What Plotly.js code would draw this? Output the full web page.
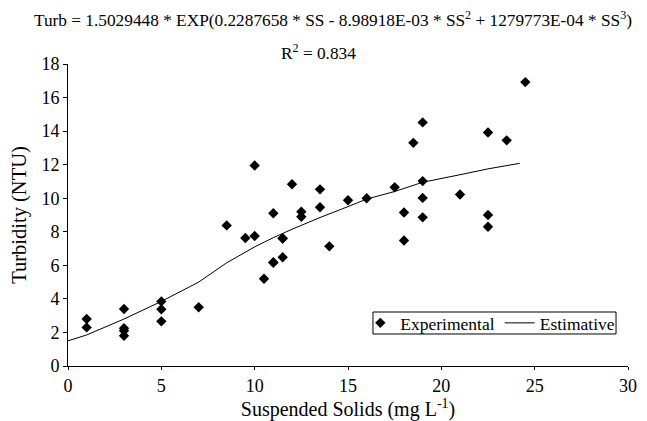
<!DOCTYPE html>
<html>
<head>
<meta charset="utf-8">
<script src="https://cdn.plot.ly/plotly-3.0.1.min.js"></script>
<style>html,body{margin:0;padding:0;background:#fff;}#chart{width:647px;height:421px;}</style>
</head>
<body>
<div id="chart"></div>
<script>
// Experimental data (Suspended Solids vs Turbidity)
var expSS = [1, 1, 3, 3, 3, 3, 5, 5, 5, 7, 8.5, 9.5, 10, 10, 10.5, 11, 11, 11, 11.5, 11.5, 11.5, 12, 12.5, 12.5, 13.5, 13.5, 14, 15, 16, 17.5, 18, 18, 18.5, 19, 19, 19, 19, 21, 22.5, 22.5, 22.5, 23.5, 24.5];
var expTurb = [2.8, 2.3, 3.4, 2.25, 2.1, 1.8, 3.85, 3.38, 2.66, 3.5, 8.38, 7.63, 11.95, 7.75, 5.2, 9.1, 6.15, 6.18, 7.61, 6.48, 7.6, 10.83, 9.2, 8.9, 10.53, 9.46, 7.13, 9.88, 10.0, 10.65, 9.15, 7.48, 13.3, 14.52, 11.02, 10.02, 8.86, 10.22, 13.92, 9.0, 8.3, 13.45, 16.92];
// Estimative curve
var estSS = [0, 1, 3, 5, 7, 8.5, 10, 11, 12, 13.5, 15, 16, 17.5, 19, 21, 22.5, 24.2];
var estTurb = [1.5, 1.85, 2.8, 3.85, 5.0, 6.15, 7.1, 7.65, 8.15, 8.85, 9.5, 9.95, 10.4, 10.95, 11.4, 11.75, 12.08];

var xTicks = [0, 5, 10, 15, 20, 25, 30];
var yTicks = [0, 2, 4, 6, 8, 10, 12, 14, 16, 18];

var FONT = 'Liberation Serif';

var traces = [
  {
    x: expSS, y: expTurb, mode: 'markers', type: 'scatter', name: 'Experimental',
    marker: {symbol: 'diamond', size: 8, color: '#000'}
  },
  {
    x: estSS, y: estTurb, mode: 'lines', type: 'scatter', name: 'Estimative',
    line: {color: '#000', width: 1}
  }
];

var layout = {
  width: 647, height: 421,
  margin: {l: 68, r: 19, t: 64, b: 55},
  paper_bgcolor: '#fff', plot_bgcolor: '#fff',
  font: {family: FONT, size: 16, color: '#000'},
  showlegend: true,
  legend: {
    orientation: 'h', x: 0.522, y: 0.1424, xanchor: 'left', yanchor: 'middle',
    borderwidth: 0, bgcolor: 'rgba(0,0,0,0)',
    font: {family: FONT, size: 17.5, color: '#000'},
    itemwidth: 30, tracegroupgap: 0
  },
  shapes: [
    {type: 'rect', xref: 'paper', yref: 'paper', x0: 0.5446, x1: 0.9786, y0: 0.106, y1: 0.1788,
     line: {color: '#000', width: 1}, fillcolor: 'rgba(0,0,0,0)'}
  ],
  xaxis: {
    range: [0, 30], tickvals: xTicks, ticktext: xTicks.map(String),
    showgrid: false, zeroline: false, showline: true, linecolor: '#000', linewidth: 1,
    ticks: 'outside', ticklen: 3, tickcolor: '#000',
    tickfont: {family: FONT, size: 18, color: '#000'},
    title: {text: 'Suspended Solids (mg L<sup>-1</sup>)', font: {family: FONT, size: 20, color: '#000'}, standoff: 5}
  },
  yaxis: {
    range: [0, 18], tickvals: yTicks, ticktext: yTicks.map(String),
    showgrid: false, zeroline: false, showline: true, linecolor: '#000', linewidth: 1,
    ticks: 'outside', ticklen: 4, tickcolor: '#000',
    tickfont: {family: FONT, size: 18, color: '#000'},
    title: {text: 'Turbidity (NTU)', font: {family: FONT, size: 20.5, color: '#000'}, standoff: 9}
  },
  annotations: [
    {
      text: 'Turb = 1.5029448 * EXP(0.2287658 * SS - 8.98918E-03 * SS<sup>2</sup> + 1279773E-04 * SS<sup>3</sup>)',
      xref: 'paper', yref: 'paper', x: 0.474, y: 1.0, yshift: 45, xanchor: 'center', yanchor: 'middle',
      showarrow: false, font: {family: FONT, size: 17.3, color: '#000'}
    },
    {
      text: 'R<sup>2</sup> = 0.834',
      xref: 'paper', yref: 'paper', x: 0.448, y: 1.0, yshift: 12, xanchor: 'center', yanchor: 'middle',
      showarrow: false, font: {family: FONT, size: 17.3, color: '#000'}
    }
  ]
};

Plotly.newPlot('chart', traces, layout, {displayModeBar: false, staticPlot: true});
</script>
</body>
</html>
